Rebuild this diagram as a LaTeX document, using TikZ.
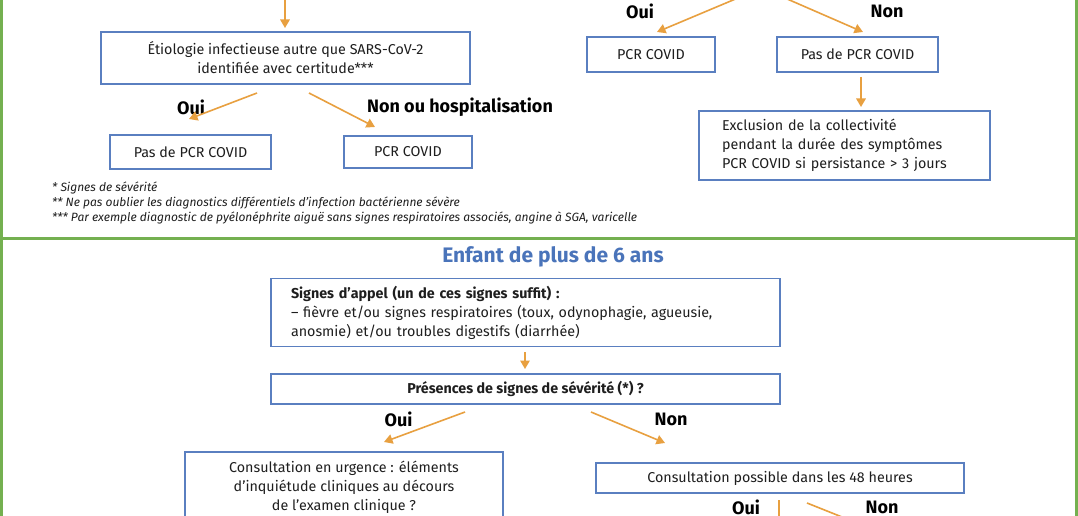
\documentclass[tikz,border=0pt]{standalone}
\usepackage{fontspec}
\setmainfont{Fira Sans}
\usetikzlibrary{arrows.meta}
\definecolor{frgreen}{HTML}{74B050}
\definecolor{boxblue}{HTML}{5A7FC0}
\definecolor{arrorange}{HTML}{E8A040}
\definecolor{titleblue}{HTML}{4A74BA}
\definecolor{txt}{HTML}{1E1E1E}
\begin{document}
\begin{tikzpicture}[x=1pt,y=-1pt,
 box/.style={draw=boxblue, line width=1.5pt, inner sep=0pt, align=center, text=txt, font=\fontsize{14.3}{19}\selectfont},
 lbl/.style={text=black, font=\fontsize{18}{18}\selectfont\bfseries, inner sep=0pt},
 ttl/.style={text=titleblue, font=\fontsize{21}{21}\selectfont\bfseries, inner sep=0pt},
 arr/.style={draw=arrorange, line width=1.6pt, -{Triangle[length=8.5pt,width=9.5pt]}},
 note/.style={anchor=west, inner sep=0pt, text=txt, font=\fontsize{12}{12}\selectfont\itshape},
 frame/.style={draw=frgreen, line width=3pt}]
\useasboundingbox (0,0) rectangle (1078,516);
\clip (0,0) rectangle (1078,516);
\fill[white] (0,0) rectangle (1078,516);
% frame
\draw[frame] (1.5,-5) -- (1.5,521);
\draw[frame] (1076,-5) -- (1076,521);
\draw[frame] (0,238.5) -- (1078,238.5);
% ---------- top left
\coordinate (a0s) at (285,-6); \coordinate (a0e) at (285,28);
\draw[arr] (a0s) -- (a0e);
\node[box, minimum width=369, minimum height=52] (etio) at (285.5,58) {Étiologie infectieuse autre que SARS-CoV-2\\identifiée avec certitude***};
\node[lbl] (ouiL) at (191,107) {Oui};
\node[lbl] (nonL) at (460,107) {Non ou hospitalisation};
\coordinate (a1s) at (257,93); \coordinate (a1e) at (189,119);
\coordinate (a2s) at (309,93); \coordinate (a2e) at (375,127);
\draw[arr] (a1s) -- (a1e);
\draw[arr] (a2s) -- (a2e);
\node[box, minimum width=161, minimum height=34] (pasL) at (190.5,152) {Pas de PCR COVID};
\node[box, minimum width=128, minimum height=32] (pcrL) at (408,152) {PCR COVID};
\node[note] (fn1) at (52,188) {* Signes de sévérité};
\node[note] (fn2) at (52,203) {** Ne pas oublier les diagnostics différentiels d’infection bactérienne sévère};
\node[note] (fn3) at (52,218) {*** Par exemple diagnostic de pyélonéphrite aiguë sans signes respiratoires associés, angine à SGA, varicelle};
% ---------- top right
\node[lbl] (ouiR) at (640,11) {Oui};
\node[lbl] (nonR) at (887,11) {Non};
\coordinate (a3s) at (745,-5); \coordinate (a3e) at (657,32);
\coordinate (a4s) at (778,-5); \coordinate (a4e) at (863,32);
\draw[arr] (a3s) -- (a3e);
\draw[arr] (a4s) -- (a4e);
\node[box, minimum width=128, minimum height=35] (pcrR) at (651,54.5) {PCR COVID};
\node[box, minimum width=161, minimum height=35] (pasR) at (857.5,54.5) {Pas de PCR COVID};
\coordinate (a5s) at (861,77); \coordinate (a5e) at (861,107);
\draw[arr] (a5s) -- (a5e);
\node[box, minimum width=291, minimum height=69, text width=245, inner xsep=23, align=left] (excl) at (844.5,145.5) {Exclusion de la collectivité\\pendant la durée des symptômes\\PCR COVID si persistance > 3 jours};
% ---------- bottom
\node[ttl] (title) at (553,257) {Enfant de plus de 6 ans};
\node[box, minimum width=509, minimum height=68, text width=469, inner xsep=20, align=left] (signes) at (525.5,312.5) {\textbf{Signes d’appel (un de ces signes suffit) :}\\– fièvre et/ou signes respiratoires (toux, odynophagie, agueusie,\\anosmie) et/ou troubles digestifs (diarrhée)};
\coordinate (a6s) at (525,352); \coordinate (a6e) at (525,369);
\draw[arr] (a6s) -- (a6e);
\node[box, minimum width=509, minimum height=30] (pres) at (525.5,389) {\bfseries Présences de signes de sévérité (*) ?};
\node[lbl] (ouiB) at (398.5,419) {Oui};
\node[lbl] (nonB) at (671,419) {Non};
\coordinate (a7s) at (465,412); \coordinate (a7e) at (384,442);
\coordinate (a8s) at (591,412); \coordinate (a8e) at (665,443);
\draw[arr] (a7s) -- (a7e);
\draw[arr] (a8s) -- (a8e);
\node[box, minimum width=318, minimum height=71] (urg) at (344,487.5) {Consultation en urgence : éléments\\d’inquiétude cliniques au décours\\de l’examen clinique ?};
\node[box, minimum width=368, minimum height=30] (poss) at (780,478) {Consultation possible dans les 48 heures};
\node[lbl] (ouiC) at (746,507) {Oui};
\node[lbl] (nonC) at (882,507) {Non};
\coordinate (a9s) at (779,500); \coordinate (a9e) at (779,532);
\coordinate (a10s) at (807,503); \coordinate (a10e) at (867,527);
\draw[arr] (a9s) -- (a9e);
\draw[arr] (a10s) -- (a10e);
\end{tikzpicture}
\end{document}
